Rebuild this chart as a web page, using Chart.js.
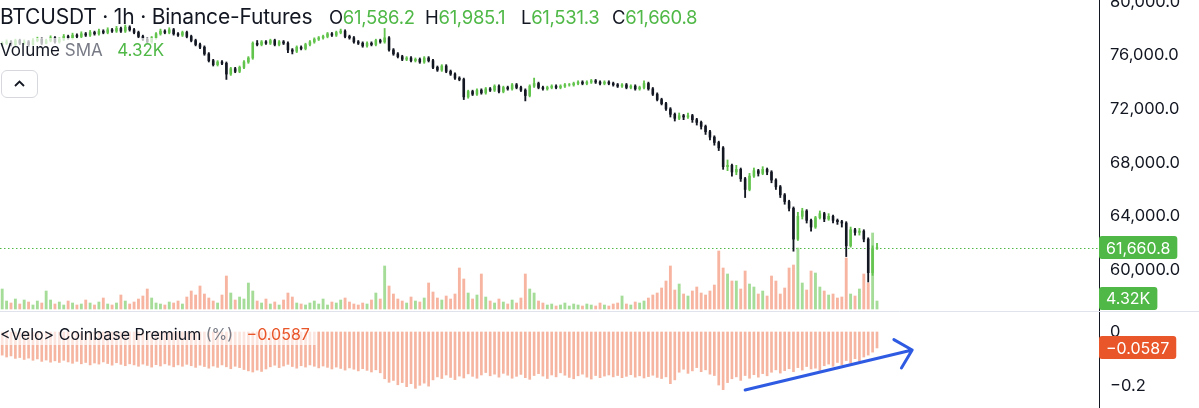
<!DOCTYPE html>
<html>
<head>
<meta charset="utf-8">
<script src="https://cdn.jsdelivr.net/npm/chart.js@4.4.1/dist/chart.umd.min.js"></script>
<style>
  html, body { margin: 0; padding: 0; background: #fff; }
  #wrap { position: relative; width: 1199px; height: 408px; overflow: hidden; font-family: Inter, "Noto Sans", sans-serif; color: #131722; }
  #chart { position: absolute; left: 0; top: 0; }
  .row { position: absolute; white-space: nowrap; line-height: 1; }
  .g { color: #4fb846; }
  .muted { color: #787b86; }
  .red { color: #e8562a; }
  #title { left: 0; top: 6px; font-size: 21px; letter-spacing: -0.2px; }
  .ohlc { top: 8px; font-size: 18.5px; letter-spacing: -0.3px; }
  #vol { left: 0; top: 38px; font-size: 17px; background: rgba(255,255,255,0.7); padding: 4px 4px 5px 0; }
  #prem { left: 0; top: 324px; font-size: 16px; background: rgba(255,255,255,0.65); padding: 2px 6px 3px 0; }
  #btn { position: absolute; left: 1px; top: 70px; width: 35px; height: 26px; border: 1px solid #d6d8de; border-radius: 6px; background: #fff; }
</style>
</head>
<body>
<div id="wrap">
  <canvas id="chart" width="1199" height="408"></canvas>
  <div class="row" id="title">BTCUSDT · 1h · Binance-Futures</div>
  <div class="row ohlc" style="left:329px">O<span class="g">61,586.2</span></div>
  <div class="row ohlc" style="left:425px">H<span class="g">61,985.1</span></div>
  <div class="row ohlc" style="left:521px">L<span class="g">61,531.3</span></div>
  <div class="row ohlc" style="left:612px">C<span class="g">61,660.8</span></div>
  <div class="row" id="vol">Volume <span class="muted">SMA</span>&nbsp;&nbsp;&nbsp;<span class="g">4.32K</span></div>
  <div id="btn"><svg width="35" height="26" viewBox="0 0 35 26"><polyline points="13,15 17.5,10.5 22,15" fill="none" stroke="#131722" stroke-width="1.8"/></svg></div>
  <div class="row" id="prem">&lt;Velo&gt; Coinbase Premium <span class="muted">(%)</span>&nbsp;&nbsp;&nbsp;<span class="red">&minus;0.0587</span></div>
</div>
<script>
// hourly bars, BTCUSDT perpetual (Binance), last 200 hours
const firstOpen = 76800;
const closes = [
  76900, 77000, 76800, 77100, 76900, 77000, 76800, 77100, 77200, 76900,
  77100, 77300, 77000, 77200, 77400, 77300, 77500, 77400, 77600, 77500,
  77700, 77600, 77800, 77700, 77900, 77800, 78000, 77800, 78100, 77900,
  77700, 77400, 77200, 77000, 77300, 77600, 77800, 77700, 77900, 77600,
  77500, 77700, 77400, 77100, 76800, 76600, 76100, 75600, 75300, 75500,
  75400, 74600, 75000, 74800, 75100, 75500, 75800, 76900, 76800, 77000,
  76900, 77100, 76800, 77000, 76900, 76400, 76300, 76600, 76500, 76800,
  77000, 77200, 77300, 77400, 77600, 77500, 77700, 77800, 77400, 77300,
  77000, 76900, 76700, 76900, 76800, 77100, 77000, 77300, 76400, 76100,
  75900, 75700, 75800, 75600, 75700, 75500, 75800, 75600, 75100, 74900,
  75200, 74800, 74600, 74300, 74200, 72900, 73300, 73100, 73400, 73200,
  73500, 73400, 73700, 73300, 73600, 73500, 73800, 73600, 73400, 73000,
  73700, 73900, 73600, 73500, 73600, 73700, 73600, 73700, 73800, 73800,
  73900, 74000, 73900, 74000, 74100, 74000, 73900, 74000, 73900, 73800,
  73700, 73800, 73600, 73700, 73500, 73600, 73900, 73500, 73100, 72700,
  72400, 72000, 71600, 71300, 71500, 71400, 71500, 71200, 71000, 70700,
  70300, 69900, 69500, 69100, 67700, 67800, 67300, 67500, 66800, 66000,
  67000, 67400, 67200, 67500, 67300, 66700, 66200, 65600, 65100, 64600,
  62300, 64000, 64400, 63700, 63200, 63900, 64200, 63800, 64000, 63700,
  63600, 63500, 61800, 63000, 62800, 62900, 62300, 59800, 61586.2, 61660.8
];
const highs = [
  77000, 77150, 77100, 77200, 77200, 77150, 77100, 77250, 77350, 77300,
  77200, 77450, 77400, 77300, 77550, 77500, 77650, 77600, 77750, 77700,
  77850, 77800, 77950, 77900, 78050, 78000, 78150, 78100, 78250, 78200,
  78000, 77800, 77500, 77300, 77400, 77700, 77950, 77900, 78050, 78000,
  77700, 77800, 77800, 77500, 77200, 76900, 76700, 76200, 75700, 75600,
  75600, 75500, 75100, 75100, 75200, 75600, 75900, 77000, 77100, 77100,
  77100, 77200, 77200, 77100, 77100, 77000, 76500, 76700, 76700, 76900,
  77100, 77300, 77400, 77500, 77700, 77700, 77800, 77950, 77900, 77500,
  77400, 77100, 77000, 77000, 77000, 77200, 77200, 78000, 77400, 76500,
  76200, 76000, 75900, 75900, 75800, 75800, 75900, 75900, 75700, 75200,
  75300, 75300, 74900, 74700, 74400, 74300, 73400, 73400, 73500, 73500,
  73600, 73600, 73800, 73800, 73700, 73700, 73900, 73900, 73700, 73500,
  73800, 74300, 74000, 73700, 73700, 73800, 73800, 73800, 73900, 73900,
  74000, 74100, 74100, 74100, 74200, 74200, 74100, 74100, 74100, 74000,
  73900, 73900, 73900, 73800, 73800, 73700, 74100, 74000, 73600, 73200,
  72800, 72500, 72100, 71700, 71700, 71600, 71700, 71600, 71300, 71100,
  70800, 70400, 70000, 69600, 69200, 68200, 67900, 67800, 67600, 66900,
  67200, 67600, 67500, 67700, 67600, 67400, 66800, 66300, 65700, 65200,
  64700, 64300, 64600, 64500, 63800, 64000, 64400, 64300, 64200, 64100,
  63800, 63700, 63600, 63200, 63100, 63100, 63000, 62400, 61800, 61985.1
];
const lows = [
  76700, 76800, 76700, 76700, 76800, 76800, 76650, 76750, 77000, 76800,
  76850, 77000, 76900, 76900, 77100, 77200, 77200, 77300, 77300, 77400,
  77400, 77500, 77500, 77600, 77600, 77700, 77700, 77700, 77700, 77800,
  77600, 77300, 77100, 76900, 76900, 77200, 77500, 77600, 77600, 77500,
  77400, 77400, 77300, 77000, 76700, 76500, 76000, 75500, 75200, 75200,
  75300, 74200, 74500, 74700, 74700, 75000, 75400, 75700, 76700, 76700,
  76800, 76800, 76700, 76700, 76800, 76200, 76100, 76200, 76400, 76400,
  76700, 76900, 77100, 77200, 77300, 77400, 77400, 77600, 77300, 77200,
  76900, 76800, 76600, 76600, 76700, 76700, 76900, 76900, 76300, 76000,
  75800, 75600, 75600, 75500, 75500, 75400, 75400, 75500, 75000, 74800,
  74800, 74700, 74500, 74200, 74100, 72700, 72800, 73000, 73000, 73100,
  73100, 73300, 73300, 73200, 73200, 73400, 73400, 73500, 73300, 72600,
  72900, 73600, 73500, 73400, 73400, 73500, 73500, 73500, 73600, 73700,
  73700, 73800, 73800, 73800, 73900, 73900, 73800, 73800, 73800, 73700,
  73600, 73600, 73500, 73500, 73400, 73400, 73500, 73400, 73000, 72600,
  72300, 71900, 71400, 71100, 71200, 71200, 71300, 71000, 70800, 70500,
  70100, 69700, 69300, 68900, 67500, 67400, 67000, 67100, 66600, 65400,
  65900, 66900, 67000, 67100, 67100, 66500, 66000, 65400, 64900, 64400,
  61400, 62200, 63800, 63500, 62900, 63100, 63800, 63600, 63700, 63500,
  63400, 63200, 61000, 61700, 62600, 62600, 62100, 59100, 59600, 61531.3
];
// volume, thousands of BTC
const volumes = [
  8.0, 3.2, 2.4, 4.0, 2.0, 3.6, 2.8, 1.6, 3.2, 2.4,
  7.2, 3.6, 2.0, 2.8, 1.6, 3.2, 2.4, 1.6, 2.0, 3.6,
  2.4, 1.6, 2.8, 4.4, 2.0, 1.6, 2.4, 5.6, 3.2, 2.0,
  2.8, 4.0, 5.2, 8.0, 4.4, 2.4, 2.0, 1.6, 2.8, 2.4,
  3.2, 2.0, 4.8, 7.2, 5.6, 9.2, 6.0, 4.4, 3.2, 2.4,
  5.6, 13.2, 6.4, 3.6, 4.8, 4.0, 10.4, 7.2, 3.2, 2.4,
  4.0, 2.0, 2.8, 1.6, 3.6, 6.4, 4.8, 2.4, 2.0, 1.6,
  2.4, 3.2, 2.0, 4.0, 1.6, 2.8, 2.4, 3.6, 4.4, 2.8,
  2.0, 1.6, 2.4, 2.0, 3.6, 6.4, 4.0, 17.2, 9.2, 6.0,
  4.0, 3.2, 2.4, 4.8, 3.2, 2.8, 4.4, 10.4, 6.8, 4.4,
  3.6, 5.2, 4.0, 6.0, 16.4, 12.0, 6.4, 4.0, 5.6, 14.0,
  4.8, 3.2, 2.4, 4.0, 2.8, 2.0, 3.6, 2.4, 4.4, 14.0,
  8.0, 6.4, 3.2, 2.4, 1.6, 2.0, 1.2, 1.6, 2.4, 1.2,
  2.0, 1.6, 1.2, 2.0, 1.6, 1.2, 2.4, 1.6, 1.2, 2.0,
  2.4, 5.2, 2.0, 1.6, 2.8, 2.4, 3.2, 4.4, 5.6, 6.4,
  8.4, 11.2, 17.2, 7.6, 10.0, 6.0, 5.2, 7.2, 8.8, 6.4,
  5.6, 7.2, 9.6, 23.2, 16.4, 14.0, 11.2, 11.2, 8.0, 15.2,
  10.0, 8.8, 6.0, 7.2, 5.2, 13.2, 11.2, 6.0, 8.4, 16.4,
  17.6, 24.4, 10.4, 7.6, 15.2, 14.4, 8.8, 7.2, 5.6, 6.0,
  4.4, 4.8, 20.4, 6.0, 5.2, 8.0, 14.0, 10.4, 30.4, 3.2
];
const volSma = 4.32;
// <Velo> Coinbase Premium, %
const premium = [
  -0.085, -0.092, -0.088, -0.097, -0.094, -0.101, -0.096, -0.104,
  -0.099, -0.108, -0.103, -0.111, -0.106, -0.112, -0.104, -0.110,
  -0.115, -0.108, -0.117, -0.112, -0.121, -0.114, -0.118, -0.110, -0.116, -0.122, -0.113, -0.119, -0.124, -0.117, -0.121,
  -0.126, -0.118, -0.123, -0.129, -0.120, -0.125, -0.117, -0.122, -0.128, -0.121, -0.126, -0.119, -0.124, -0.130, -0.122,
  -0.127, -0.133, -0.125, -0.130, -0.121, -0.128, -0.135, -0.126, -0.131, -0.138, -0.143,
  -0.147, -0.140, -0.145, -0.136,
  -0.128, -0.122, -0.131, -0.125, -0.119, -0.127, -0.133, -0.124, -0.129, -0.121, -0.126, -0.132, -0.125, -0.130, -0.136,
  -0.129, -0.134, -0.140, -0.132, -0.137, -0.143, -0.135, -0.141, -0.147, -0.139, -0.150,
  -0.172, -0.185, -0.178, -0.194, -0.186, -0.201, -0.190, -0.207, -0.196, -0.188, -0.199,
  -0.176, -0.165, -0.171, -0.158, -0.167, -0.175, -0.162, -0.169, -0.154, -0.163,
  -0.170, -0.158, -0.149, -0.161, -0.155, -0.166, -0.152, -0.159, -0.170, -0.163,
  -0.156, -0.168, -0.174, -0.160, -0.153, -0.162, -0.171, -0.158, -0.165, -0.150,
  -0.159, -0.167, -0.172, -0.161, -0.155, -0.166, -0.173, -0.160, -0.168,
  -0.162, -0.158, -0.165, -0.160, -0.168, -0.163, -0.157, -0.166, -0.161, -0.169, -0.164, -0.159, -0.167, -0.171, -0.165,
  -0.190, -0.176,
  -0.148, -0.137, -0.152, -0.143, -0.131, -0.146, -0.139, -0.155, -0.160,
  -0.195, -0.212, -0.186,
  -0.172, -0.165, -0.178, -0.160, -0.170, -0.157, -0.166, -0.153, -0.161,
  -0.148, -0.139, -0.151, -0.142, -0.135, -0.146, -0.131, -0.140, -0.127, -0.136, -0.133,
  -0.141, -0.124,
  -0.118, -0.126, -0.112, -0.120, -0.105, -0.114, -0.098, -0.108, -0.092, -0.085, -0.074, -0.0587
];
const priceTicks = [60000, 64000, 68000, 72000, 76000, 80000];
const premiumTicks = [0, -0.2];
const slots = 250; // 200 hours drawn + empty space on the right

const green = '#4fb846';
const barGreen = '#62c44c';
const barBlack = '#131722';
const orange = '#e8562a';

const labels = Array.from({ length: slots }, (_, i) => i);
const opens = [firstOpen].concat(closes.slice(0, -1));
const isUp = closes.map((c, i) => c >= opens[i]);

const fmtPrice = v => v.toLocaleString('en-US', { minimumFractionDigits: 1, maximumFractionDigits: 1 });
const fmtPrem = v => v === 0 ? '0' : (v < 0 ? '\u2212' : '') + Math.abs(v).toFixed(1);

function tag(ctx, text, x, y, bg) {
  ctx.font = '16px Inter, "Noto Sans", sans-serif';
  const w = ctx.measureText(text).width + 14;
  ctx.fillStyle = bg;
  ctx.beginPath();
  ctx.roundRect(x, Math.round(y - 11.5), w, 23, 3);
  ctx.fill();
  ctx.fillStyle = '#fff';
  ctx.textBaseline = 'middle';
  ctx.textAlign = 'left';
  ctx.fillText(text, x + 7, y + 1);
}

const overlay = {
  id: 'overlay',
  beforeDatasetsDraw(chart) {
    const { ctx, chartArea, scales } = chart;
    const sepY = scales.y.bottom + 0.5;
    ctx.save();
    ctx.strokeStyle = '#e0e3eb';
    ctx.lineWidth = 1;
    ctx.beginPath();
    ctx.moveTo(0, sepY);
    ctx.lineTo(chart.width, sepY);
    ctx.stroke();
    const py = Math.round(scales.y.getPixelForValue(closes[closes.length - 1])) + 0.5;
    ctx.strokeStyle = green;
    ctx.setLineDash([1.5, 2.5]);
    ctx.beginPath();
    ctx.moveTo(0, py);
    ctx.lineTo(chartArea.right, py);
    ctx.stroke();
    ctx.restore();
  },
  afterDraw(chart) {
    const { ctx, chartArea, scales } = chart;
    const x0 = chartArea.right;
    ctx.save();
    tag(ctx, fmtPrice(closes[closes.length - 1]), x0, scales.y.getPixelForValue(closes[closes.length - 1]), green);
    tag(ctx, volSma.toFixed(2) + 'K', x0, scales.vol.getPixelForValue(volSma), green);
    tag(ctx, '\u2212' + Math.abs(premium[premium.length - 1]).toFixed(4), x0, scales.prem.getPixelForValue(premium[premium.length - 1]), orange);

    // hand-drawn trend arrow under the premium pane
    const sx = scales.x.getPixelForValue(169), sy = scales.prem.getPixelForValue(-0.213);
    const tx = scales.x.getPixelForValue(207), ty = scales.prem.getPixelForValue(-0.066);
    const ang = Math.atan2(sy - ty, sx - tx);
    ctx.strokeStyle = '#2f5be3';
    ctx.lineWidth = 3;
    ctx.lineCap = 'round';
    ctx.lineJoin = 'round';
    ctx.beginPath();
    ctx.moveTo(sx, sy);
    ctx.lineTo(tx, ty);
    ctx.moveTo(tx + 21 * Math.cos(ang + 0.75), ty + 21 * Math.sin(ang + 0.75));
    ctx.lineTo(tx, ty);
    ctx.lineTo(tx + 21 * Math.cos(ang - 0.8), ty + 21 * Math.sin(ang - 0.8));
    ctx.stroke();
    ctx.restore();
  }
};

const axisFit = s => { s.width = 100; s.paddingTop = 0; s.paddingBottom = 0; };

const ctx = document.getElementById('chart').getContext('2d');
const chart = new Chart(ctx, {
  type: 'bar',
  data: {
    labels: labels,
    datasets: [
      {
        label: 'premium',
        data: premium,
        yAxisID: 'prem',
        backgroundColor: 'rgba(238,128,92,0.58)',
        barThickness: 2,
        grouped: false
      },
      {
        label: 'volume',
        data: volumes,
        yAxisID: 'vol',
        backgroundColor: isUp.map(u => u ? 'rgba(104,196,84,0.6)' : 'rgba(242,136,104,0.62)'),
        barThickness: 2.2,
        grouped: false
      },
      {
        label: 'range',
        data: lows.map((l, i) => [l, highs[i]]),
        yAxisID: 'y',
        backgroundColor: isUp.map(u => u ? barGreen : barBlack),
        barThickness: 1.2,
        grouped: false
      },
      {
        label: 'body',
        data: closes.map((c, i) => [opens[i], c]),
        yAxisID: 'y',
        backgroundColor: isUp.map(u => u ? barGreen : barBlack),
        barThickness: 1.9,
        grouped: false
      }
    ]
  },
  options: {
    responsive: false,
    animation: false,
    devicePixelRatio: 1,
    layout: { padding: 0 },
    plugins: { legend: { display: false }, tooltip: { enabled: false } },
    scales: {
      x: { display: false, offset: true, grid: { display: false } },
      y: {
        position: 'right',
        stack: 'panes',
        stackWeight: 311,
        min: 56945,
        max: 80119,
        grid: { display: false, drawTicks: false },
        border: { display: true, color: '#131722', width: 1 },
        afterBuildTicks: s => { s.ticks = priceTicks.map(v => ({ value: v })); },
        afterFit: axisFit,
        ticks: {
          padding: 11,
          color: '#131722',
          font: { family: 'Inter, "Noto Sans", sans-serif', size: 16.5 },
          callback: v => fmtPrice(v)
        }
      },
      prem: {
        position: 'right',
        stack: 'panes',
        stackWeight: 97,
        min: -0.2794,
        max: 0.0772,
        grid: { display: false, drawTicks: false },
        border: { display: true, color: '#131722', width: 1 },
        afterBuildTicks: s => { s.ticks = premiumTicks.map(v => ({ value: v })); },
        afterFit: axisFit,
        ticks: {
          padding: 11,
          color: '#131722',
          font: { family: 'Inter, "Noto Sans", sans-serif', size: 16.5 },
          callback: v => fmtPrem(v)
        }
      },
      vol: {
        position: 'right',
        display: false,
        min: -39.6,
        max: 123.6,
        grid: { display: false },
        ticks: { display: false },
        afterFit: s => { s.width = 0; }
      }
    }
  },
  plugins: [overlay]
});
</script>
</body>
</html>
